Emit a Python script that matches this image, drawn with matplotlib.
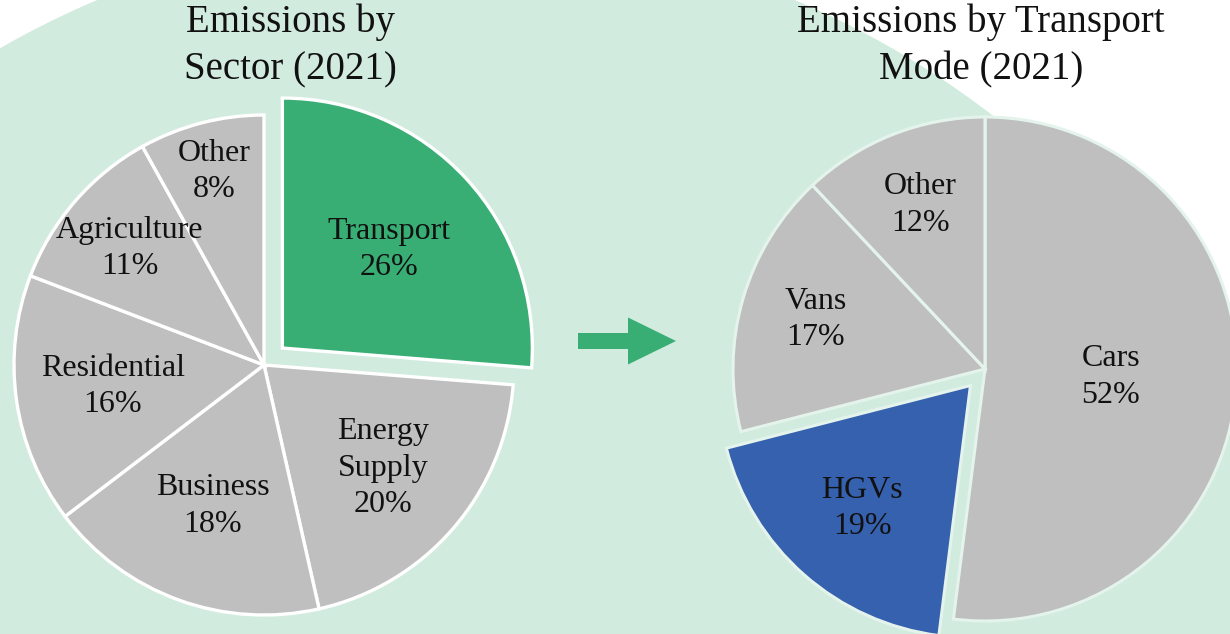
import numpy as np
import matplotlib
matplotlib.use("Agg")
import matplotlib.pyplot as plt
from matplotlib.patches import Circle

plt.rcParams['font.family'] = ['Liberation Serif', 'DejaVu Serif']

# data
sector_labels = ['Transport', 'Energy\nSupply', 'Business', 'Residential', 'Agriculture', 'Other']
sector_values = [26, 20, 18, 16, 11, 8]
mode_labels = ['Cars', 'HGVs', 'Vans', 'Other']
mode_values = [52, 19, 17, 12]

green = '#38ae74'
blue = '#3661ae'
grey = '#bfbfbf'
mint = '#d2ebdf'

sector_colors = [green] + [grey] * 5
mode_colors = [grey, blue, grey, grey]

# label distance (fraction of radius) for each wedge
sector_lab_r = [0.58, 0.63, 0.60, 0.61, 0.71, 0.80]
mode_lab_r = [0.50, 0.65, 0.70, 0.70]

W, H = 1230, 634
fig = plt.figure(figsize=(W / 100, H / 100), dpi=100)
ax = fig.add_axes([0, 0, 1, 1])

# big mint background circle
ax.add_patch(Circle((446, H - 825), 895, color=mint, zorder=0))


def draw_pie(values, colors, center, radius, explode, edge, lw, lab_r, labels):
    # explode is in data units (pixels here)
    wedges, _ = ax.pie(values, colors=colors, startangle=90, counterclock=False,
                       center=center, radius=radius, explode=explode,
                       wedgeprops=dict(edgecolor=edge, linewidth=lw))
    for w, d, lab, v in zip(wedges, lab_r, labels, values):
        mid = np.radians((w.theta1 + w.theta2) / 2)
        x = w.center[0] + w.r * d * np.cos(mid)
        y = w.center[1] + w.r * d * np.sin(mid)
        ax.text(x, y, f"{lab}\n{v}%", ha='center', va='center', fontsize=23,
                linespacing=1.33, color='#111111')


draw_pie(sector_values, sector_colors, (264, H - 365), 250,
         [25, 0, 0, 0, 0, 0], 'white', 2.4, sector_lab_r, sector_labels)
draw_pie(mode_values, mode_colors, (985, H - 369), 252,
         [0, 22, 0, 0], '#e4f4ec', 2.2, mode_lab_r, mode_labels)

# arrow between the pies
ax.arrow(578, H - 341, 50, 0, width=16, head_width=47, head_length=48,
         length_includes_head=False, color=green, linewidth=0)

ax.text(290, H - 46, "Emissions by\nSector (2021)", ha='center', va='center',
        fontsize=28, linespacing=1.38, color='#111111')
ax.text(981, H - 46, "Emissions by Transport\nMode (2021)", ha='center', va='center',
        fontsize=28, linespacing=1.38, color='#111111')

ax.set_xlim(0, W)
ax.set_ylim(0, H)
ax.set_aspect('equal')
ax.axis('off')

fig.savefig('out.png', dpi=100, facecolor='white')
